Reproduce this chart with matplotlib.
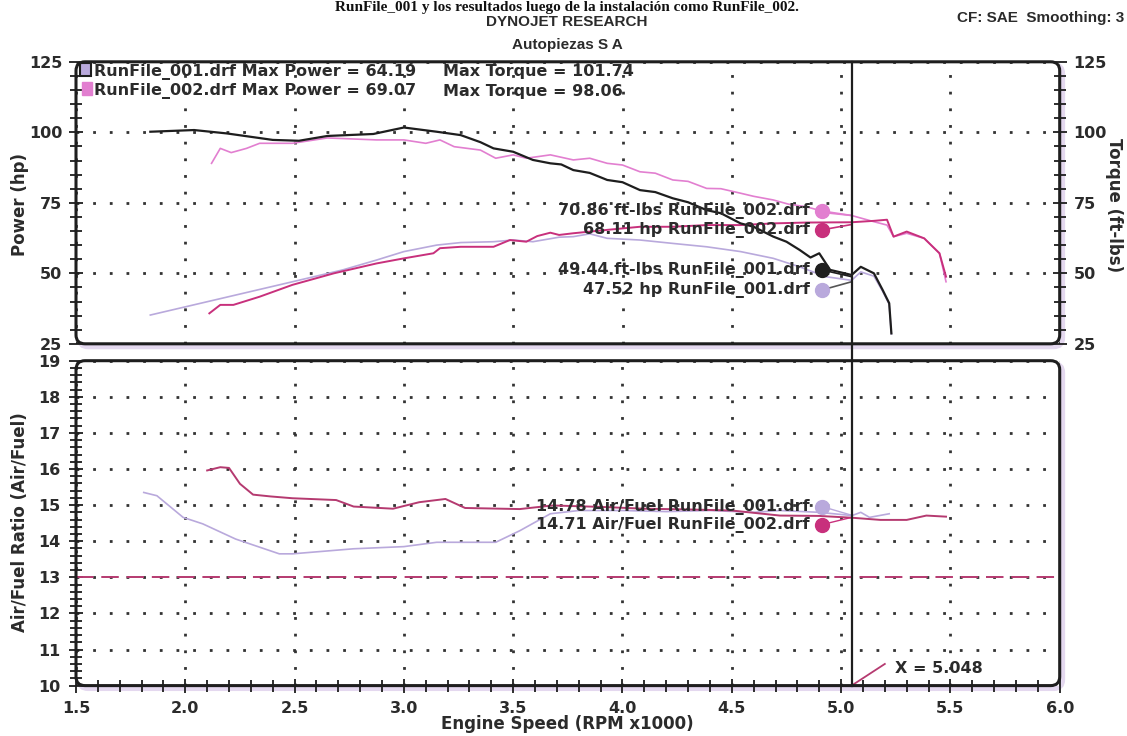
import numpy as np
import matplotlib
matplotlib.use("Agg")
import matplotlib.pyplot as plt
from matplotlib.patches import FancyBboxPatch, Rectangle
from matplotlib.transforms import IdentityTransform, blended_transform_factory
from matplotlib.lines import Line2D

# -----------------------------
# Data read from the dyno sheet (RPM x1000)
# -----------------------------
rpm_tq1 = [1.84, 2.04, 2.19, 2.40, 2.52, 2.65, 2.86, 3.00, 3.15, 3.26, 3.35, 3.41, 3.50,
           3.59, 3.67, 3.72, 3.775, 3.85, 3.93, 4.00, 4.08, 4.15, 4.23, 4.30, 4.385, 4.45,
           4.54, 4.60, 4.69, 4.75, 4.81, 4.86, 4.90, 4.95, 5.00, 5.048, 5.09, 5.15, 5.19,
           5.22, 5.23]
tq1 = [100.2, 100.8, 99.6, 97.3, 97.0, 98.7, 99.4, 101.7, 100.2, 99.0, 96.5, 94.3, 93.1,
       90.2, 89.0, 88.6, 86.6, 85.6, 83.1, 82.3, 79.5, 78.8, 76.6, 75.2, 72.4, 71.3,
       67.7, 66.5, 63.0, 61.2, 58.3, 55.6, 57.1, 51.2, 50.3, 49.4, 52.3, 50.0, 44.1,
       39.4, 28.7]

rpm_tq2 = [2.12, 2.16, 2.21, 2.28, 2.34, 2.49, 2.65, 2.875, 3.00, 3.10, 3.165, 3.23, 3.35,
           3.42, 3.50, 3.56, 3.67, 3.775, 3.85, 3.93, 4.00, 4.08, 4.15, 4.23, 4.30, 4.385,
           4.45, 4.54, 4.60, 4.69, 4.76, 4.84, 4.95, 5.048, 5.15, 5.21, 5.24, 5.30, 5.38,
           5.45, 5.48]
tq2 = [89.0, 94.3, 92.8, 94.3, 96.1, 96.1, 98.0, 97.3, 97.3, 96.1, 97.3, 94.9, 93.7,
       90.8, 92.0, 90.8, 92.0, 90.2, 90.8, 89.0, 88.4, 86.0, 85.5, 83.1, 82.6, 80.1,
       80.0, 78.4, 77.3, 76.0, 74.5, 73.6, 71.3, 70.5, 68.3, 67.1, 63.0, 64.2, 62.4,
       57.1, 47.0]

rpm_hp1 = [1.84, 2.49, 2.72, 2.875, 3.00, 3.15, 3.26, 3.41, 3.50, 3.59, 3.71, 3.775, 3.85,
           3.93, 4.08, 4.23, 4.385, 4.54, 4.69, 4.81, 4.93, 5.048, 5.09, 5.15, 5.19, 5.22,
           5.23]
hp1 = [35.2, 47.0, 51.2, 54.7, 57.7, 60.0, 60.9, 61.2, 61.8, 61.2, 62.8, 63.0, 64.0,
       62.4, 61.8, 60.6, 59.4, 57.7, 55.3, 52.3, 48.8, 47.5, 50.5, 49.0, 43.6, 39.0,
       28.5]

rpm_hp2 = [2.11, 2.16, 2.22, 2.34, 2.49, 2.68, 2.875, 3.00, 3.135, 3.165, 3.26, 3.41, 3.485,
           3.56, 3.61, 3.67, 3.71, 3.775, 3.93, 4.08, 4.23, 4.385, 4.54, 4.69, 4.84, 5.048,
           5.15, 5.21, 5.24, 5.30, 5.38, 5.45, 5.48]
hp2 = [35.8, 38.8, 38.8, 41.7, 45.9, 50.0, 53.5, 55.3, 57.1, 58.9, 59.4, 59.4, 61.8,
       61.2, 63.2, 64.4, 63.6, 64.2, 65.4, 66.5, 66.5, 67.1, 67.1, 67.7, 68.0, 68.1,
       68.6, 69.0, 63.0, 64.8, 62.4, 57.1, 48.8]

rpm_afr1 = [1.81, 1.87, 1.99, 2.08, 2.23, 2.43, 2.49, 2.77, 3.00, 3.15, 3.30, 3.42, 3.53,
            3.67, 3.80, 4.00, 4.20, 4.40, 4.60, 4.72, 4.90, 5.05, 5.09, 5.13, 5.22]
afr1 = [15.35, 15.26, 14.66, 14.48, 14.06, 13.65, 13.65, 13.79, 13.85, 13.97, 13.97, 13.97,
        14.29, 14.76, 14.85, 14.85, 14.82, 14.85, 14.80, 14.85, 14.80, 14.71, 14.80, 14.66,
        14.76]

rpm_afr2 = [2.10, 2.16, 2.20, 2.25, 2.31, 2.39, 2.49, 2.69, 2.77, 2.95, 3.07, 3.19, 3.28,
            3.53, 3.68, 3.90, 4.10, 4.30, 4.50, 4.72, 4.90, 5.05, 5.18, 5.30, 5.39, 5.48]
afr2 = [15.96, 16.05, 16.03, 15.59, 15.29, 15.24, 15.19, 15.14, 14.96, 14.90, 15.08, 15.17,
        14.92, 14.89, 14.99, 14.95, 14.90, 14.88, 14.85, 14.71, 14.70, 14.65, 14.59, 14.59,
        14.71, 14.68]

cursor_x = 5.048
afr_target = 13
x_ticks = [1.5, 2.0, 2.5, 3.0, 3.5, 4.0, 4.5, 5.0, 5.5, 6.0]

# colours
c_blk = "#1e1e1e"
c_pink = "#e27fd0"
c_mag = "#c8307c"
c_lav = "#b9a9dc"
c_afr2 = "#b53a70"
c_txt = "#2b2b2b"

W, H = 1127, 736
fig = plt.figure(figsize=(W / 100, H / 100), dpi=100)
plt.rcParams['font.family'] = 'DejaVu Sans'


def px_axes(x0, y0, x1, y1):
    # pixel box measured from the top-left corner of the image
    return fig.add_axes([x0 / W, 1 - y1 / H, (x1 - x0) / W, (y1 - y0) / H])


def frame(ax):
    # rounded frame with a lavender drop shadow, like the dyno printout
    for s in ax.spines.values():
        s.set_visible(False)
    p = ax.get_position()
    x0, y0, w, h = p.x0 * W, p.y0 * H, p.width * W, p.height * H
    shadow = FancyBboxPatch((x0 + 3, y0 - 3), w, h, boxstyle="round,pad=0,rounding_size=9",
                            transform=IdentityTransform(), fc="none", ec="#e4d8ef", lw=3.5,
                            zorder=-1)
    box = FancyBboxPatch((x0, y0), w, h, boxstyle="round,pad=0,rounding_size=9",
                         transform=IdentityTransform(), fc="none", ec=c_blk, lw=2.2, zorder=5)
    fig.add_artist(shadow)
    fig.add_artist(box)


grid_kw = dict(color="#333333", linestyle=(0, (1, 5)), linewidth=2)
tick_kw = dict(direction="inout", color=c_blk, width=1.3, labelsize=11.5, labelcolor=c_txt)

# -----------------------------
# Upper panel: power / torque
# -----------------------------
ax1 = px_axes(76, 61.8, 1059.7, 343.8)
ax1.set_xlim(1.5, 6.0)
ax1.set_ylim(25, 125)
ax1.set_xticks(x_ticks)
ax1.set_yticks([25, 50, 75, 100, 125])
ax1.set_yticks(np.arange(25, 126, 5), minor=True)
ax1.tick_params(axis="x", bottom=False, labelbottom=False)
ax1.tick_params(axis="y", which="major", length=10, left=True, right=True,
                labelleft=True, labelright=True, pad=5, **tick_kw)
ax1.tick_params(axis="y", which="minor", length=9, left=True, right=True, direction="inout",
                color=c_blk, width=1.3)
for lab in ax1.get_yticklabels():
    lab.set_fontweight("bold")
ax1.grid(True, which="major", **grid_kw)
ax1.set_axisbelow(True)

ax1.plot(rpm_tq2, tq2, color=c_pink, lw=1.2, zorder=3)
ax1.plot(rpm_hp1, hp1, color=c_lav, lw=1.2, zorder=3)
ax1.plot(rpm_hp2, hp2, color=c_mag, lw=1.4, zorder=3)
ax1.plot(rpm_tq1, tq1, color=c_blk, lw=1.6, zorder=4)

# legend rows
ax1.add_patch(Rectangle((0.004, 0.95), 0.011, 0.045, transform=ax1.transAxes, fc=c_lav,
                        ec=c_blk, lw=1.5, clip_on=False, zorder=6))
ax1.add_patch(Rectangle((0.006, 0.882), 0.010, 0.045, transform=ax1.transAxes, fc=c_pink,
                        ec=c_pink, lw=1, clip_on=False, zorder=6))
leg_kw = dict(fontsize=11.5, fontweight="bold", color=c_txt, va="center", ha="left", zorder=6)
ax1.text(1.582, 121.4, "RunFile_001.drf Max Power = 64.19", **leg_kw)
ax1.text(3.179, 121.4, "Max Torque = 101.74", **leg_kw)
ax1.text(1.582, 114.6, "RunFile_002.drf Max Power = 69.07", **leg_kw)
ax1.text(3.179, 114.6, "Max Torque = 98.06", **leg_kw)

# cursor readouts
dot_x = 4.913
lab_kw = dict(fontsize=11.5, fontweight="bold", color=c_txt, va="center", ha="right", zorder=7)
readouts = [(72.1, 70.5, c_pink, "70.86 ft-lbs RunFile_002.drf"),
            (65.4, 67.3, c_mag, "68.11 hp RunFile_002.drf"),
            (51.2, 48.8, c_blk, "49.44 ft-lbs RunFile_001.drf"),
            (44.1, 47.0, c_lav, "47.52 hp RunFile_001.drf")]
for ydot, ycur, col, txt in readouts:
    ax1.plot([dot_x, cursor_x], [ydot, ycur], color=col if col != c_lav else "#555555",
             lw=1.2, zorder=5)
    ax1.plot(dot_x, ydot, "o", ms=10, color=col, zorder=6)
    ax1.text(dot_x - 0.055, ydot, txt, **lab_kw)

# -----------------------------
# Lower panel: air/fuel ratio
# -----------------------------
ax2 = px_axes(76, 360.7, 1059.7, 685.6)
ax2.set_xlim(1.5, 6.0)
ax2.set_ylim(10, 19)
ax2.set_xticks(x_ticks)
ax2.set_xticklabels([f"{v:.1f}" for v in x_ticks])
ax2.set_xticks(np.arange(1.5, 6.01, 0.1), minor=True)
ax2.set_yticks(np.arange(10, 20, 1))
ax2.set_yticks(np.arange(10, 19.01, 0.2), minor=True)
ax2.tick_params(axis="both", which="major", length=10, pad=6, **tick_kw)
ax2.tick_params(axis="both", which="minor", length=9, direction="inout", color=c_blk, width=1.3)
for lab in ax2.get_yticklabels() + ax2.get_xticklabels():
    lab.set_fontweight("bold")
ax2.grid(True, which="major", **grid_kw)
ax2.set_axisbelow(True)

ax2.axhline(afr_target, color=c_afr2, lw=1.4, ls=(0, (9, 4)), zorder=2)
ax2.plot(rpm_afr1, afr1, color=c_lav, lw=1.2, zorder=3)
ax2.plot(rpm_afr2, afr2, color=c_afr2, lw=1.4, zorder=3)

afr_readouts = [(14.96, 14.72, c_lav, "14.78 Air/Fuel RunFile_001.drf"),
                (14.46, 14.66, c_mag, "14.71 Air/Fuel RunFile_002.drf")]
for ydot, ycur, col, txt in afr_readouts:
    ax2.plot([dot_x, cursor_x], [ydot, ycur], color=col, lw=1.0, zorder=5)
    ax2.plot(dot_x, ydot, "o", ms=10, color=col, zorder=6)
    ax2.text(dot_x - 0.055, ydot, txt, **lab_kw)

ax2.plot([cursor_x, 5.20], [10, 10.6], color=c_afr2, lw=1.3, zorder=5)
ax2.text(5.245, 10.47, f"X = {cursor_x:.3f}", fontsize=11.5, fontweight="bold", color=c_txt,
         va="center", ha="left")

frame(ax1)
frame(ax2)

# cursor line through both panels
tr = blended_transform_factory(ax2.transData, fig.transFigure)
fig.add_artist(Line2D([cursor_x, cursor_x], [1 - 686 / H, 1 - 62 / H], transform=tr,
                      color=c_blk, lw=1.6, zorder=6))

# -----------------------------
# Titles and axis labels
# -----------------------------
fig.text(567 / W, 1 - 11 / H, "RunFile_001 y los resultados luego de la instalación como RunFile_002.",
         fontsize=11, fontweight="bold", family="Liberation Serif", ha="center", va="baseline",
         color="#111111")
hdr_kw = dict(fontsize=11, fontweight="bold", family="Liberation Sans", va="center",
              color=c_txt)
fig.text(567 / W, 1 - 22 / H, "DYNOJET RESEARCH", ha="center", **hdr_kw)
fig.text(567 / W, 1 - 45 / H, "Autopiezas S A", ha="center", **hdr_kw)
fig.text(1124 / W, 1 - 18 / H, "CF: SAE  Smoothing: 3", ha="right", **hdr_kw)

fig.text(20 / W, 1 - 205 / H, "Power (hp)", rotation=90, fontsize=12, fontweight="bold",
         ha="center", va="center", color=c_txt)
fig.text(1114 / W, 1 - 205 / H, "Torque (ft-lbs)", rotation=270, fontsize=12,
         fontweight="bold", ha="center", va="center", color=c_txt)
fig.text(20 / W, 1 - 522 / H, "Air/Fuel Ratio (Air/Fuel)", rotation=90, fontsize=12,
         fontweight="bold", ha="center", va="center", color=c_txt)
fig.text(567 / W, 1 - 724 / H, "Engine Speed (RPM x1000)", fontsize=12, fontweight="bold",
         ha="center", va="center", color=c_txt)

fig.savefig("out.png", dpi=100)
